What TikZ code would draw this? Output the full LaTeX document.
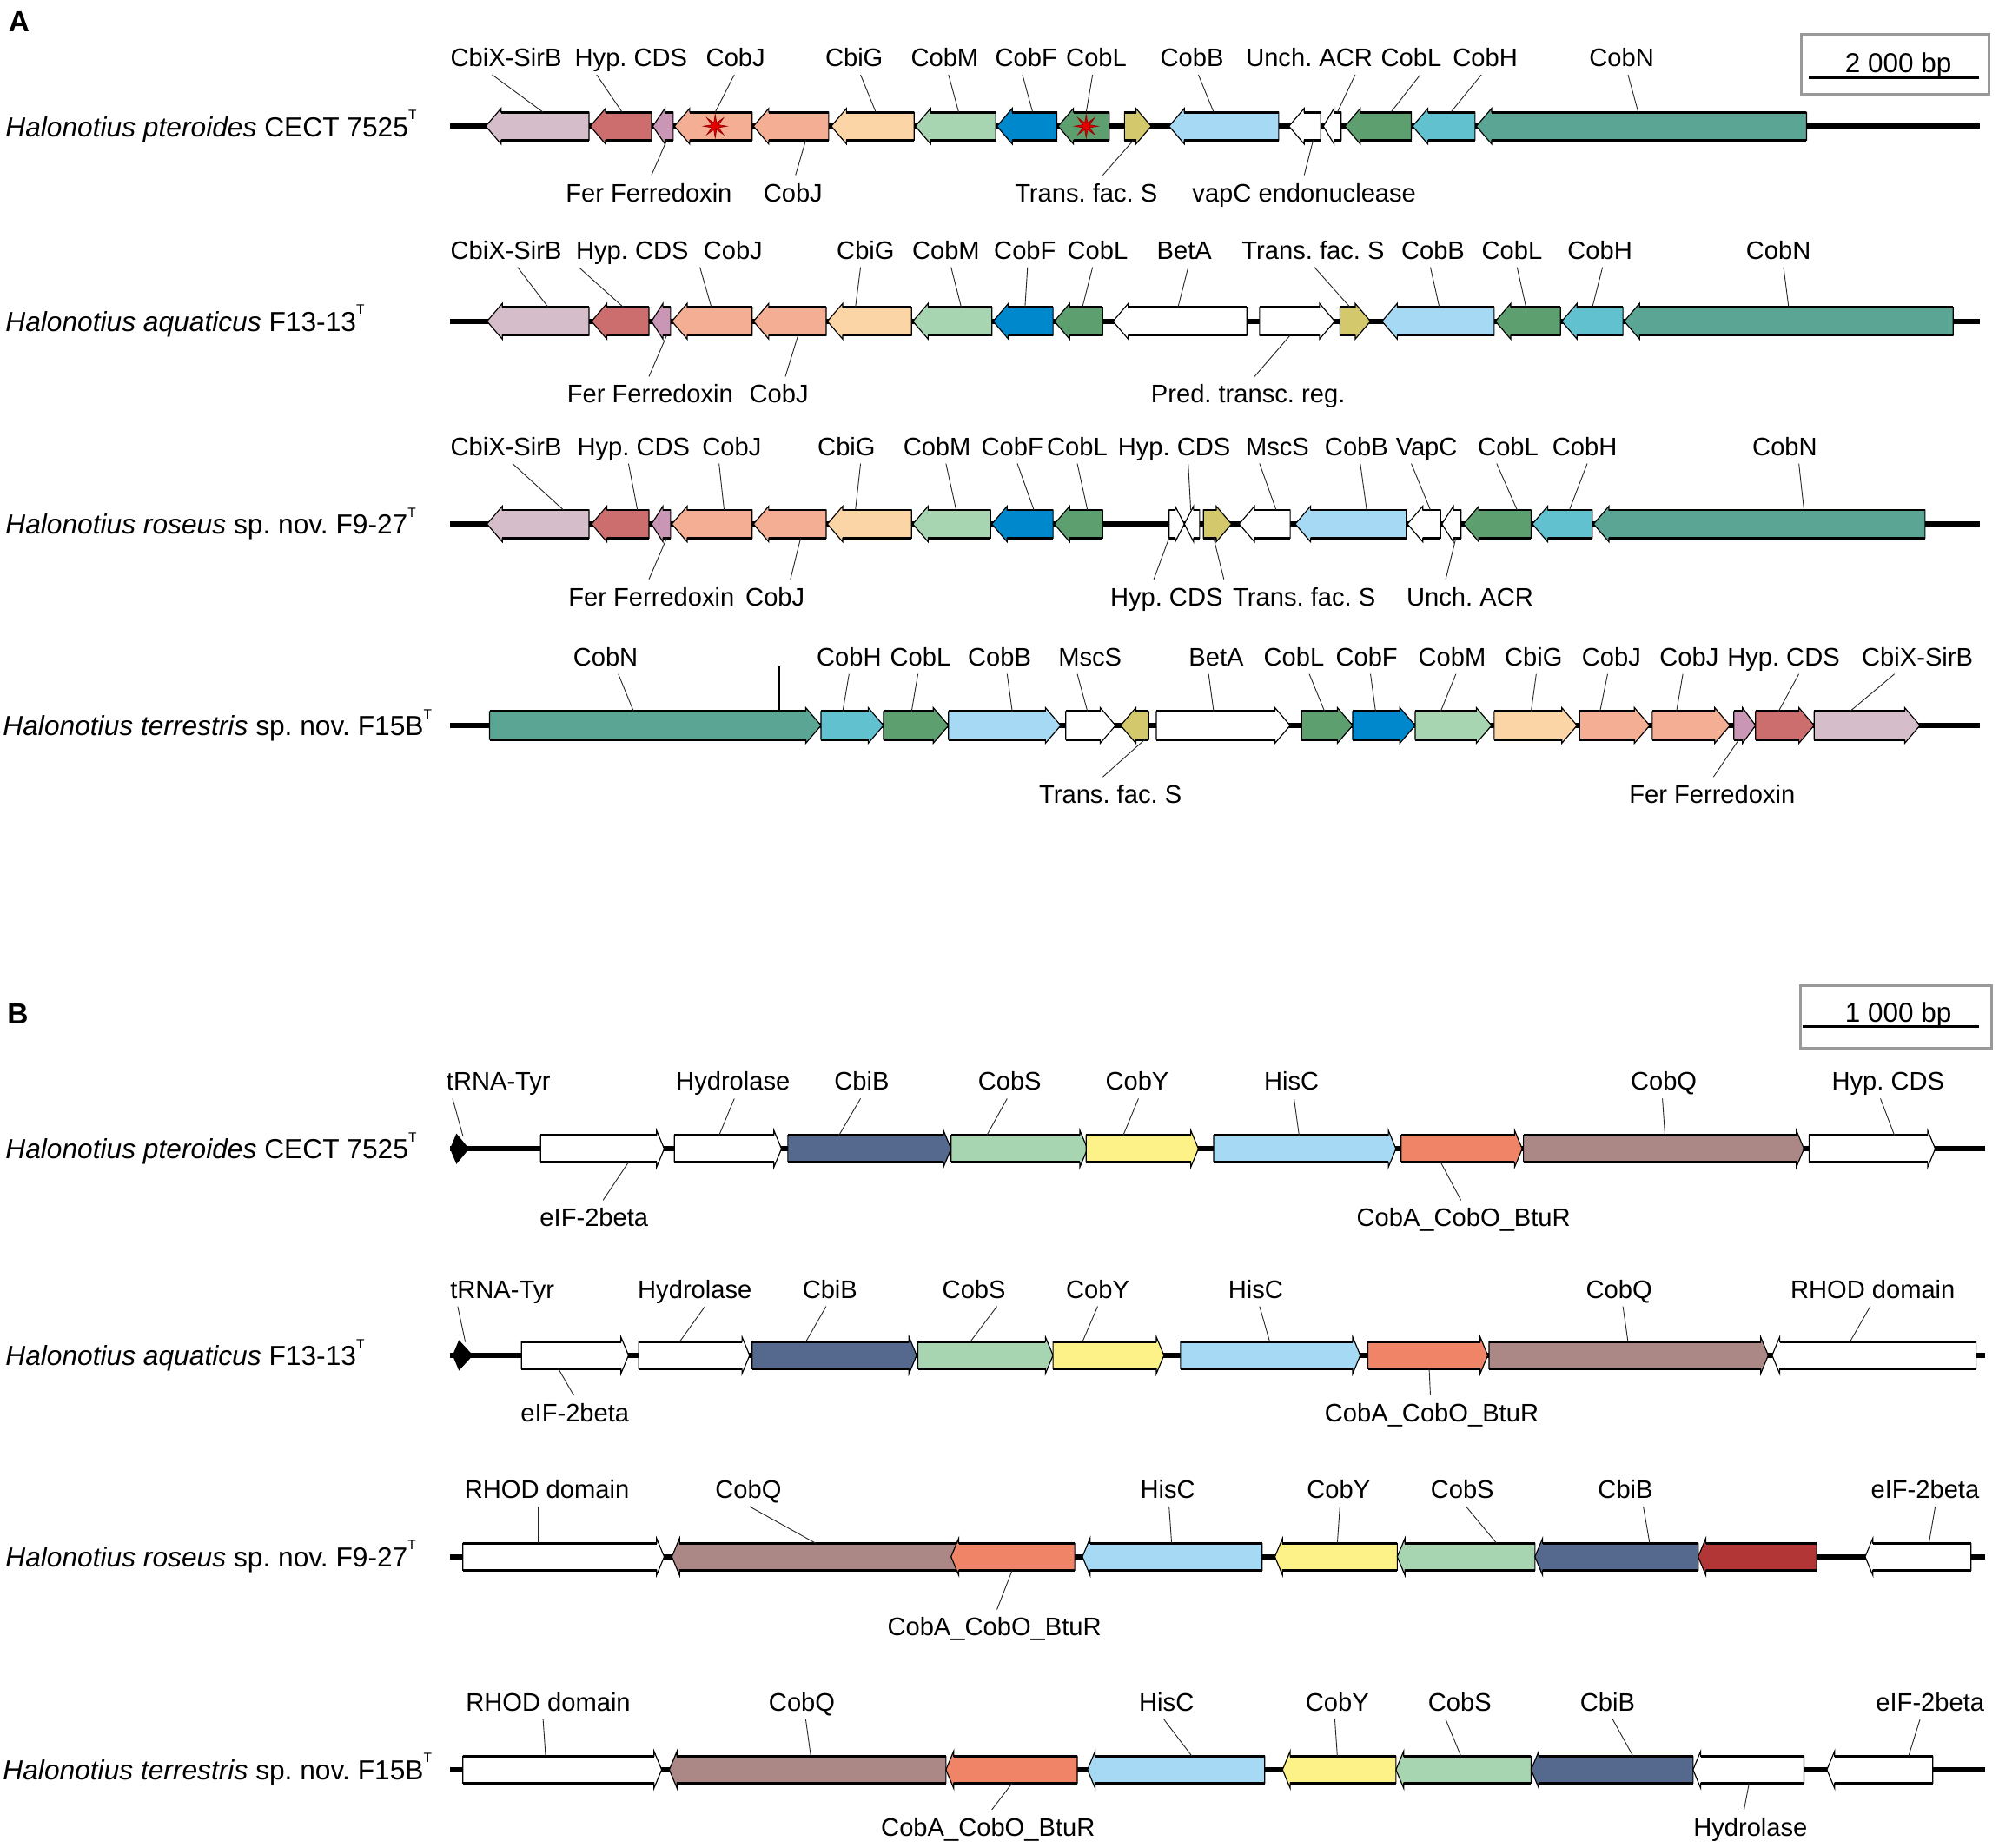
\documentclass[tikz,border=0pt]{standalone}
\usepackage{fontspec}
\setmainfont{Liberation Sans}
\usetikzlibrary{shapes.geometric,calc}

\definecolor{cbix}{HTML}{D5BDCA}
\definecolor{hypred}{HTML}{CC6E6E}
\definecolor{fer}{HTML}{C996B5}
\definecolor{cobj}{HTML}{F4AE93}
\definecolor{cbig}{HTML}{FBD5A5}
\definecolor{cobm}{HTML}{A8D5B1}
\definecolor{cobf}{HTML}{0088CC}
\definecolor{cobl}{HTML}{5E9F70}
\definecolor{tfs}{HTML}{D4C86C}
\definecolor{cobb}{HTML}{A6D9F4}
\definecolor{cobh}{HTML}{62C1CE}
\definecolor{cobn}{HTML}{5BA594}
\definecolor{cbib}{HTML}{55688E}
\definecolor{coby}{HTML}{FDF288}
\definecolor{coba}{HTML}{EF8566}
\definecolor{cobq}{HTML}{AB8886}
\definecolor{redgene}{HTML}{B33637}

\newcommand{\typT}{\raisebox{0.62em}{\fontsize{6}{6}\selectfont T}}

% gene arrow: tail x, tip x, fill colour (row y in \rowy)
\newcommand{\gene}[3]{%
  \pgfmathsetmacro{\gnb}{#2-(#2>#1?1:-1)*min(\gnl,0.6*abs(#2-#1))}%
  \pgfmathsetmacro{\gnt}{\rowy-\gnh}%
  \pgfmathsetmacro{\gnd}{\rowy+\gnh}%
  \pgfmathsetmacro{\gnT}{\rowy-\gnh-\gnf}%
  \pgfmathsetmacro{\gnD}{\rowy+\gnh+\gnf}%
  \draw[genebody, fill=#3] (#1,\gnt) -- (\gnb,\gnt) -- (\gnb,\gnT) -- (#2,\rowy)
    -- (\gnb,\gnD) -- (\gnb,\gnd) -- (#1,\gnd) -- cycle;
  \draw[genebar] (#1,\gnt) -- (\gnb,\gnt) (#1,\gnd) -- (\gnb,\gnd);
}
% label above / below: name, label x, label y, text, leader start x, leader end x
\newcommand{\labup}[6]{%
  \node (#1) [glabel] at (#2,#3) {#4};
  \coordinate (#1-s) at (#5,#3);
  \coordinate (#1-e) at (#6,\rowy-\gnh);
  \draw[lead] (#1.south -| #1-s) -- (#1-e);
}
\newcommand{\labdn}[6]{%
  \node (#1) [glabel] at (#2,#3) {#4};
  \coordinate (#1-s) at (#5,#3);
  \coordinate (#1-e) at (#6,\rowy+\gnh);
  \draw[lead] (#1.north -| #1-s) -- (#1-e);
}

\begin{document}
\begin{tikzpicture}[x=0.02cm, y=-0.02cm,
  glabel/.style={font=\fontsize{11.3}{13}\selectfont, text height=8.1pt, text depth=0pt, inner xsep=1pt, inner ysep=3.5pt},
  species/.style={font=\fontsize{12.3}{14}\selectfont, anchor=base west, inner sep=0pt},
  panel/.style={font=\fontsize{13}{15}\selectfont\bfseries, inner sep=0pt},
  lead/.style={line width=0.35pt, black!85},
  backbone/.style={line width=2.2pt},
  genebody/.style={line width=0.45pt, line join=miter},
  genebar/.style={line width=1.1pt},
  starmark/.style={star, star points=8, star point ratio=3.2, minimum size=0.36cm, inner sep=0pt, fill=red!90!black, draw=red!60!black, line width=0.3pt},
  scalebox/.style={draw=black!40, line width=1.1pt},
  scaletext/.style={font=\fontsize{12.2}{14}\selectfont, text height=8.7pt, text depth=0pt, inner sep=0pt}]

\path[fill=white] (0,0) rectangle (1568,1449);
\useasboundingbox (0,0) rectangle (1568,1449);

%% ---------------- panel A ----------------
\node (panA) [panel] at (15,17) {A};
\draw[scalebox] (1413,27) rectangle (1560,74);
\node (scA) [scaletext] at (1489,49) {2 000 bp};
\coordinate (scA-l) at (1419,61);
\coordinate (scA-r) at (1552,61);
\draw[line width=1pt] (scA-l) -- (scA-r);

\def\gnh{11}\def\gnf{3}\def\gnl{12}

% A1
\def\rowy{99}
\node (spa1) [species] at (4,\rowy+8) {\textit{Halonotius pteroides} CECT 7525\typT};
\draw[backbone] (353,\rowy) -- (1553,\rowy);
\gene{462}{381}{cbix}
\gene{511}{463}{hypred}
\gene{528}{512}{fer}
\gene{590}{529}{cobj}
\gene{650}{591}{cobj}
\gene{717}{652}{cbig}
\gene{781}{718}{cobm}
\gene{829}{782}{cobf}
\gene{870}{830}{cobl}
\gene{882}{903}{tfs}
\gene{1003}{917}{cobb}
\gene{1036}{1011}{white}
\gene{1052}{1038}{white}
\gene{1107}{1055}{cobl}
\gene{1157}{1108}{cobh}
\gene{1417}{1158}{cobn}
\node (a1star1) [starmark] at (561,\rowy) {};
\node (a1star2) [starmark] at (852,\rowy) {};
\labup{a1cbix}{397}{45}{CbiX-SirB}{386}{426}
\labup{a1hyp}{495}{45}{Hyp.\ CDS}{468}{488}
\labup{a1cobj}{577}{45}{CobJ}{576}{561}
\labup{a1cbig}{670}{45}{CbiG}{675}{687}
\labup{a1cobm}{741}{45}{CobM}{744}{752}
\labup{a1cobf}{805}{45}{CobF}{802}{810}
\labup{a1cobl}{860}{45}{CobL}{857}{852}
\labup{a1cobb}{935}{45}{CobB}{940}{952}
\labup{a1unch}{1027}{45}{Unch.\ ACR}{1063}{1049}
\labup{a1cobl2}{1107}{45}{CobL}{1114}{1091}
\labup{a1cobh}{1165}{45}{CobH}{1162}{1138}
\labup{a1cobn}{1272}{45}{CobN}{1277}{1285}
\labdn{a1fer}{509}{151}{Fer Ferredoxin}{511}{523}
\labdn{a1cobj2}{622}{151}{CobJ}{624}{632}
\labdn{a1tfs}{852}{151}{Trans.\ fac.\ S}{865}{889}
\labdn{a1vapc}{1023}{151}{vapC endonuclease}{1023}{1030}

% A2
\def\rowy{252}
\node (spa2) [species] at (4,\rowy+8) {\textit{Halonotius aquaticus} F13-13\typT};
\draw[backbone] (353,\rowy) -- (1553,\rowy);
\gene{462}{382}{cbix}
\gene{509}{464}{hypred}
\gene{526}{511}{fer}
\gene{590}{527}{cobj}
\gene{648}{591}{cobj}
\gene{715}{649}{cbig}
\gene{778}{716}{cobm}
\gene{826}{779}{cobf}
\gene{865}{827}{cobl}
\gene{978}{873}{white}
\gene{988}{1047}{white}
\gene{1051}{1075}{tfs}
\gene{1172}{1084}{cobb}
\gene{1224}{1173}{cobl}
\gene{1273}{1225}{cobh}
\gene{1532}{1274}{cobn}
\labup{a2cbix}{397}{196}{CbiX-SirB}{406}{430}
\labup{a2hyp}{496}{196}{Hyp.\ CDS}{454}{489}
\labup{a2cobj}{575}{196}{CobJ}{549}{558}
\labup{a2cbig}{679}{196}{CbiG}{675}{671}
\labup{a2cobm}{742}{196}{CobM}{746}{754}
\labup{a2cobf}{804}{196}{CobF}{806}{804}
\labup{a2cobl}{861}{196}{CobL}{857}{849}
\labup{a2beta}{929}{196}{BetA}{932}{924}
\labup{a2tfs}{1030}{196}{Trans.\ fac.\ S}{1031}{1059}
\labup{a2cobb}{1124}{196}{CobB}{1122}{1129}
\labup{a2cobl2}{1186}{196}{CobL}{1190}{1197}
\labup{a2cobh}{1255}{196}{CobH}{1257}{1249}
\labup{a2cobn}{1395}{196}{CobN}{1399}{1403}
\labdn{a2fer}{510}{309}{Fer Ferredoxin}{509}{523}
\labdn{a2cobj2}{611}{309}{CobJ}{616}{626}
\labdn{a2pred}{979}{309}{Pred.\ transc.\ reg.}{984}{1012}

% A3
\def\rowy{411}
\node (spa3) [species] at (4,\rowy+8) {\textit{Halonotius roseus} sp.\ nov.\ F9-27\typT};
\draw[backbone] (353,\rowy) -- (1553,\rowy);
\gene{462}{382}{cbix}
\gene{509}{464}{hypred}
\gene{526}{511}{fer}
\gene{590}{527}{cobj}
\gene{648}{591}{cobj}
\gene{715}{649}{cbig}
\gene{777}{716}{cobm}
\gene{826}{778}{cobf}
\gene{865}{827}{cobl}
\gene{917}{929}{white}
\gene{941}{929}{white}
\gene{944}{966}{tfs}
\gene{1012}{972}{white}
\gene{1103}{1016}{cobb}
\gene{1130}{1104}{white}
\gene{1146}{1131}{white}
\gene{1201}{1148}{cobl}
\gene{1249}{1202}{cobh}
\gene{1510}{1250}{cobn}
\labup{a3cbix}{397}{350}{CbiX-SirB}{402}{442}
\labup{a3hyp}{497}{350}{Hyp.\ CDS}{493}{500}
\labup{a3cobj}{574}{350}{CobJ}{564}{568}
\labup{a3cbig}{664}{350}{CbiG}{675}{671}
\labup{a3cobm}{735}{350}{CobM}{742}{750}
\labup{a3cobf}{794}{350}{CobF}{798}{811}
\labup{a3cobl}{845}{350}{CobL}{845}{853}
\labup{a3hyp2}{921}{350}{Hyp.\ CDS}{932}{934}
\labup{a3mscs}{1002}{350}{MscS}{988}{1001}
\labup{a3cobb}{1064}{350}{CobB}{1067}{1072}
\labup{a3vapc}{1119}{350}{VapC}{1107}{1122}
\labup{a3cobl2}{1183}{350}{CobL}{1174}{1190}
\labup{a3cobh}{1243}{350}{CobH}{1245}{1231}
\labup{a3cobn}{1400}{350}{CobN}{1411}{1415}
\labdn{a3fer}{511}{468}{Fer Ferredoxin}{509}{523}
\labdn{a3cobj2}{608}{468}{CobJ}{620}{628}
\labdn{a3hyp3}{915}{468}{Hyp.\ CDS}{905}{917}
\labdn{a3tfs}{1023}{468}{Trans.\ fac.\ S}{960}{952}
\labdn{a3unch}{1153}{468}{Unch.\ ACR}{1134}{1142}

% A4
\def\rowy{569}
\node (spa4) [species] at (2,\rowy+8) {\textit{Halonotius terrestris} sp.\ nov.\ F15B\typT};
\draw[backbone] (353,\rowy) -- (1553,\rowy);
\gene{384}{644}{cobn}
\gene{644}{693}{cobh}
\gene{693}{744}{cobl}
\gene{744}{832}{cobb}
\gene{836}{875}{white}
\gene{901}{879}{tfs}
\gene{907}{1012}{white}
\gene{1021}{1061}{cobl}
\gene{1061}{1110}{cobf}
\gene{1110}{1170}{cobm}
\gene{1172}{1237}{cbig}
\gene{1239}{1294}{cobj}
\gene{1296}{1357}{cobj}
\gene{1360}{1377}{fer}
\gene{1377}{1423}{hypred}
\gene{1423}{1506}{cbix}
\coordinate (a4mark-t) at (611,523);
\coordinate (a4mark-b) at (611,558);
\draw[line width=0.9pt] (a4mark-t) -- (a4mark-b);
\labup{a4cobn}{475}{515}{CobN}{485}{497}
\labup{a4cobh}{666}{515}{CobH}{666}{661}
\labup{a4cobl}{722}{515}{CobL}{720}{715}
\labup{a4cobb}{784}{515}{CobB}{790}{794}
\labup{a4mscs}{855}{515}{MscS}{845}{853}
\labup{a4beta}{954}{515}{BetA}{948}{952}
\labup{a4cobl2}{1015}{515}{CobL}{1027}{1039}
\labup{a4cobf}{1072}{515}{CobF}{1075}{1079}
\labup{a4cobm}{1139}{515}{CobM}{1142}{1130}
\labup{a4cbig}{1203}{515}{CbiG}{1205}{1201}
\labup{a4cobj}{1264}{515}{CobJ}{1261}{1255}
\labup{a4cobj2}{1325}{515}{CobJ}{1320}{1315}
\labup{a4hyp}{1399}{515}{Hyp.\ CDS}{1411}{1395}
\labup{a4cbix}{1504}{515}{CbiX-SirB}{1486}{1451}
\labdn{a4tfs}{871}{623}{Trans.\ fac.\ S}{865}{898}
\labdn{a4fer}{1343}{623}{Fer Ferredoxin}{1344}{1364}

%% ---------------- panel B ----------------
\node (panB) [panel] at (14,795) {B};
\draw[scalebox] (1412,773) rectangle (1562,822);
\node (scB) [scaletext] at (1489,794) {1 000 bp};
\coordinate (scB-l) at (1414,805);
\coordinate (scB-r) at (1552,805);
\draw[line width=1pt] (scB-l) -- (scB-r);

\def\gnh{10.5}\def\gnf{4}\def\gnl{6}

% B1
\def\rowy{901}
\node (spb1) [species] at (4,\rowy+8) {\textit{Halonotius pteroides} CECT 7525\typT};
\draw[backbone] (353,\rowy) -- (1557,\rowy);
\fill (353,\rowy) -- (358,\rowy-12) -- (368,\rowy) -- (358,\rowy+12) -- cycle;
\gene{424}{521}{white}
\gene{529}{613}{white}
\gene{618}{746}{cbib}
\gene{746}{853}{cobm}
\gene{852}{940}{coby}
\gene{952}{1095}{cobb}
\gene{1099}{1194}{coba}
\gene{1195}{1415}{cobq}
\gene{1419}{1518}{white}
\labup{b1trna}{391}{848}{tRNA-Tyr}{355}{363}
\labup{b1hydr}{575}{848}{Hydrolase}{576}{564}
\labup{b1cbib}{676}{848}{CbiB}{675}{658}
\labup{b1cobs}{792}{848}{CobS}{790}{774}
\labup{b1coby}{892}{848}{CobY}{893}{881}
\labup{b1hisc}{1013}{848}{HisC}{1015}{1019}
\labup{b1cobq}{1305}{848}{CobQ}{1304}{1306}
\labup{b1hyp}{1481}{848}{Hyp.\ CDS}{1475}{1486}
\labdn{b1eif}{466}{955}{eIF-2beta}{473}{493}
\labdn{b1coba}{1148}{955}{CobA\_CobO\_BtuR}{1146}{1130}

% B2
\def\rowy{1063}
\node (spb2) [species] at (4,\rowy+8) {\textit{Halonotius aquaticus} F13-13\typT};
\draw[backbone] (353,\rowy) -- (1557,\rowy);
\fill (355,\rowy) -- (360,\rowy-12) -- (371,\rowy) -- (360,\rowy+12) -- cycle;
\gene{409}{493}{white}
\gene{501}{588}{white}
\gene{590}{719}{cbib}
\gene{720}{826}{cobm}
\gene{826}{913}{coby}
\gene{926}{1067}{cobb}
\gene{1073}{1167}{coba}
\gene{1168}{1387}{cobq}
\gene{1550}{1390}{white}
\labup{b2trna}{394}{1011}{tRNA-Tyr}{359}{365}
\labup{b2hydr}{545}{1011}{Hydrolase}{553}{533}
\labup{b2cbib}{651}{1011}{CbiB}{648}{632}
\labup{b2cobs}{764}{1011}{CobS}{782}{761}
\labup{b2coby}{861}{1011}{CobY}{861}{849}
\labup{b2hisc}{985}{1011}{HisC}{988}{996}
\labup{b2cobq}{1270}{1011}{CobQ}{1273}{1277}
\labup{b2rhod}{1469}{1011}{RHOD domain}{1467}{1451}
\labdn{b2eif}{451}{1108}{eIF-2beta}{450}{438}
\labdn{b2coba}{1123}{1108}{CobA\_CobO\_BtuR}{1122}{1121}

% B3
\def\rowy{1221}
\node (spb3) [species] at (4,\rowy+8) {\textit{Halonotius roseus} sp.\ nov.\ F9-27\typT};
\draw[backbone] (353,\rowy) -- (1557,\rowy);
\gene{363}{521}{white}
\gene{750}{527}{cobq}
\gene{843}{746}{coba}
\gene{990}{849}{cobb}
\gene{1096}{1000}{coby}
\gene{1204}{1096}{cobm}
\gene{1332}{1204}{cbib}
\gene{1425}{1332}{redgene}
\gene{1546}{1463}{white}
\labup{b3rhod}{429}{1168}{RHOD domain}{422}{422}
\labup{b3cobq}{587}{1168}{CobQ}{588}{640}
\labup{b3hisc}{916}{1168}{HisC}{917}{919}
\labup{b3coby}{1050}{1168}{CobY}{1051}{1049}
\labup{b3cobs}{1147}{1168}{CobS}{1150}{1174}
\labup{b3cbib}{1275}{1168}{CbiB}{1289}{1294}
\labup{b3eif}{1510}{1168}{eIF-2beta}{1518}{1513}
\labdn{b3coba}{780}{1276}{CobA\_CobO\_BtuR}{782}{794}

% B4
\def\rowy{1388}
\node (spb4) [species] at (2,\rowy+8) {\textit{Halonotius terrestris} sp.\ nov.\ F15B\typT};
\draw[backbone] (353,\rowy) -- (1557,\rowy);
\gene{363}{519}{white}
\gene{742}{525}{cobq}
\gene{845}{742}{coba}
\gene{992}{853}{cobb}
\gene{1095}{1006}{coby}
\gene{1201}{1095}{cobm}
\gene{1328}{1201}{cbib}
\gene{1415}{1328}{white}
\gene{1516}{1433}{white}
\labup{b4rhod}{430}{1335}{RHOD domain}{426}{428}
\labup{b4cobq}{629}{1335}{CobQ}{632}{636}
\labup{b4hisc}{915}{1335}{HisC}{913}{935}
\labup{b4coby}{1049}{1335}{CobY}{1047}{1049}
\labup{b4cobs}{1145}{1335}{CobS}{1134}{1146}
\labup{b4cbib}{1261}{1335}{CbiB}{1265}{1281}
\labup{b4eif}{1514}{1335}{eIF-2beta}{1506}{1497}
\labdn{b4coba}{775}{1433}{CobA\_CobO\_BtuR}{778}{794}
\labdn{b4hydr}{1373}{1433}{Hydrolase}{1368}{1372}
\end{tikzpicture}
\end{document}
